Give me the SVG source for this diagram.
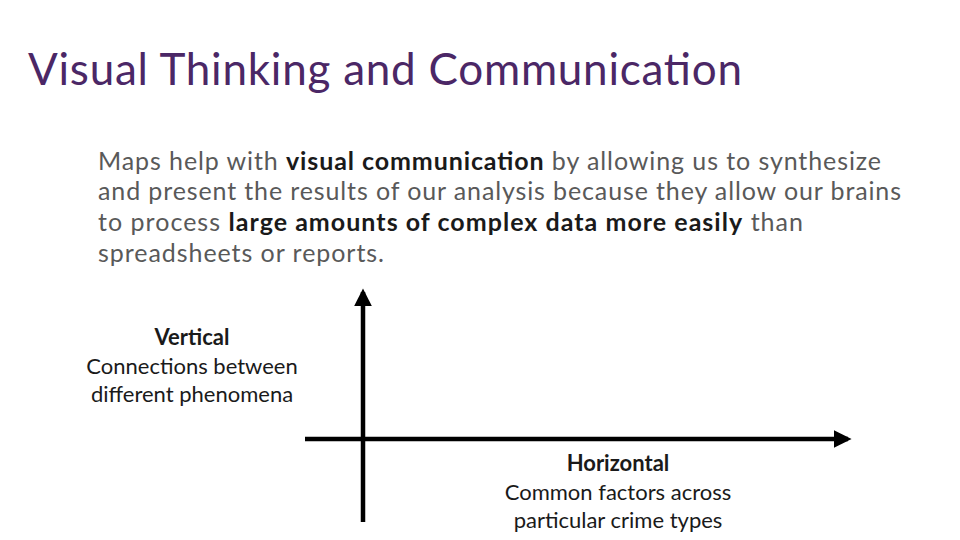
<svg xmlns="http://www.w3.org/2000/svg" width="960" height="540" viewBox="0 0 960 540">
<style>
text{font-family:Lato,"Open Sans","Liberation Sans",sans-serif}
.t{font-size:44px;fill:#4b2766}
.b{font-size:25px;fill:#595959}
.k{font-weight:bold;fill:#1a1a1a}
.l{font-size:22px;fill:#1a1a1a;text-anchor:middle}
.ax{stroke:#000;stroke-width:4.5;fill:none}
</style>
<defs><marker id="ah" viewBox="0 0 10 10" refX="8" refY="5" markerWidth="4" markerHeight="4" orient="auto"><path d="M0,0L10,5L0,10z" fill="#000"/></marker></defs>
<rect width="960" height="540" fill="#fff"/>
<text class="t" x="28" y="85" textLength="714">Visual Thinking and Communication</text>
<g id="body">
<text class="b" x="98" y="170" textLength="783">Maps help with <tspan class="k">visual communication</tspan> by allowing us to synthesize</text>
<text class="b" x="98" y="200" textLength="803">and present the results of our analysis because they allow our brains</text>
<text class="b" x="98" y="231" textLength="705">to process <tspan class="k">large amounts of complex data more easily</tspan> than</text>
<text class="b" x="98" y="262" textLength="286">spreadsheets or reports.</text>
</g>
<g id="connectors">
<line class="ax" x1="363" y1="522" x2="363" y2="292" marker-end="url(#ah)"/>
<line class="ax" x1="305" y1="439" x2="848" y2="439" marker-end="url(#ah)"/>
</g>
<g id="vertical">
<text class="l" x="192" y="345" font-weight="bold">Vertical</text>
<text class="l" x="192" y="374">Connections between</text>
<text class="l" x="192" y="402">different phenomena</text>
</g>
<g id="horizontal">
<text class="l" x="618" y="471" font-weight="bold">Horizontal</text>
<text class="l" x="618" y="500">Common factors across</text>
<text class="l" x="618" y="528">particular crime types</text>
</g>
</svg>
